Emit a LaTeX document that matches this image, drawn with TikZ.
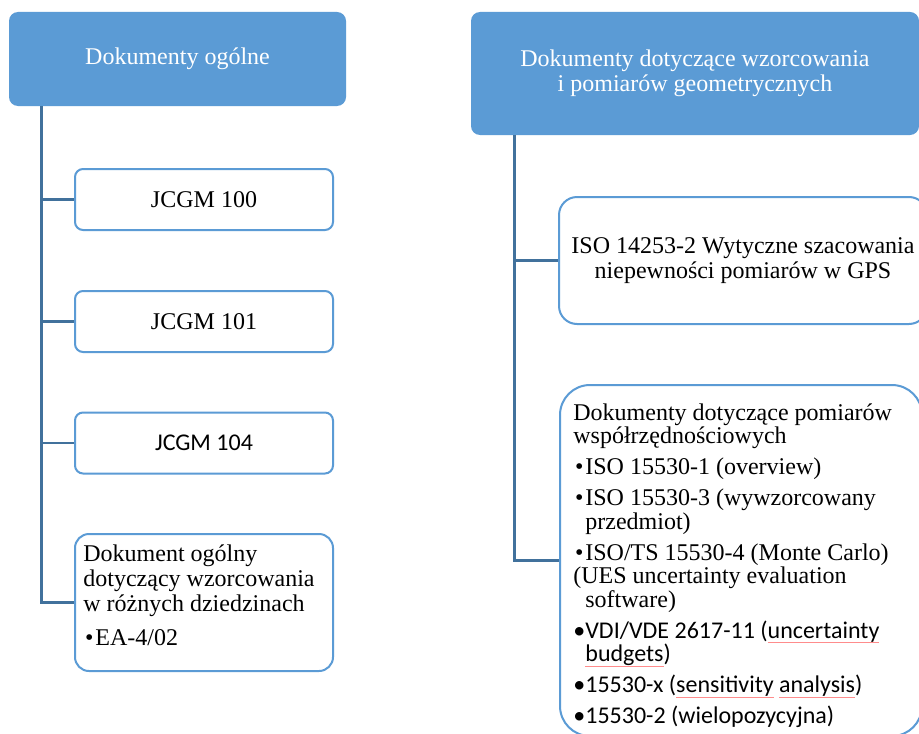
\documentclass[tikz,border=0pt]{standalone}
\usepackage{fontspec}
\setmainfont{Liberation Serif}
\newfontfamily\calibri{Carlito}
\definecolor{smartblue}{HTML}{5B9BD5}
\definecolor{smartline}{HTML}{41719C}
\newcommand{\bul}{\makebox[6pt][c]{\textbullet}}
\newsavebox{\spellbox}
\newcommand{\spell}[1]{\sbox{\spellbox}{#1}\rlap{\textcolor{red!45}{\rule[-2.5pt]{\wd\spellbox}{0.4pt}}}\usebox{\spellbox}}
\begin{document}
\begin{tikzpicture}[x=0.5pt, y=-0.5pt,
	head/.style={rectangle, rounded corners=4.5pt, fill=smartblue, text=white, align=center, inner sep=0pt},
	doc/.style={rectangle, rounded corners=4pt, draw=smartblue, line width=1pt, fill=white, align=center, inner sep=0pt, minimum width=129pt, minimum height=30.5pt},
	txt/.style={anchor=north west, inner sep=0pt, align=left},
	sans/.style={font=\calibri\fontsize{12pt}{14pt}\selectfont},
	conn/.style={draw=smartline, line width=1.3pt}]
	\tikzstyle{every node}=[font=\fontsize{12pt}{12.5pt}\selectfont]

	\fill[white] (0,0) rectangle (919,733);
	\useasboundingbox (0,0) rectangle (919,733);

	% left column
	\node[head, minimum width=168.5pt, minimum height=47pt] (headGen) at (177.5,59) {Dokumenty ogólne};
	\node[doc] (jcgm100) at (204,199.5) {JCGM 100};
	\node[doc] (jcgm101) at (204,321.5) {JCGM 101};
	\node[doc, sans] (jcgm104) at (204,443) {JCGM 104};
	\node[doc, minimum height=68.5pt, rounded corners=7pt] (ea402) at (204,602.5) {};
	\node[txt] (ea402txt) at (83,544) {Dokument ogólny\\dotyczący wzorcowania\\w różnych dziedzinach\\[4.5pt]\bul EA-4/02};

	% right column
	\node[head, minimum width=224pt, minimum height=61.5pt] (headGeo) at (695,73.5) {Dokumenty dotyczące wzorcowania\\i pomiarów geometrycznych};
	\node[doc, minimum width=184pt, minimum height=63.5pt, rounded corners=9pt] (iso14253) at (743,260.5) {ISO 14253-2 Wytyczne szacowania\\niepewności pomiarów w GPS};
	\node[doc, minimum width=181pt, minimum height=175.5pt, rounded corners=15pt] (cmm) at (741,560.5) {};
	\node[txt, font=\fontsize{12pt}{11.75pt}\selectfont] (cmmtxt) at (573,403) {Dokumenty dotyczące pomiarów\\
		współrzędnościowych\\[3.75pt]
		\bul ISO 15530-1 (overview)\\[3.75pt]
		\bul ISO 15530-3 (wywzorcowany\\
		\hspace*{6pt}przedmiot)\\[3.75pt]
		\bul ISO/TS 15530-4 (Monte Carlo)\\
		(UES uncertainty evaluation\\
		\hspace*{6pt}software)\\[3.75pt]
		{\calibri\bul VDI/VDE 2617-11 (\spell{uncertainty}}\\
		{\calibri\hspace*{6pt}\spell{budgets})}\\[3.75pt]
		{\calibri\bul 15530-x (\spell{sensitivity} \spell{analysis})}\\[3.75pt]
		{\calibri\bul 15530-2 (wielopozycyjna)}};

	% connectors
	\coordinate (trunkGen) at (41.5,106);
	\coordinate (trunkGeo) at (514.5,135);
	\foreach \n in {jcgm100,jcgm101,jcgm104,ea402}
		\draw[conn] (trunkGen) |- (\n.west);
	\foreach \n in {iso14253,cmm}
		\draw[conn] (trunkGeo) |- (\n.west);
\end{tikzpicture}
\end{document}
